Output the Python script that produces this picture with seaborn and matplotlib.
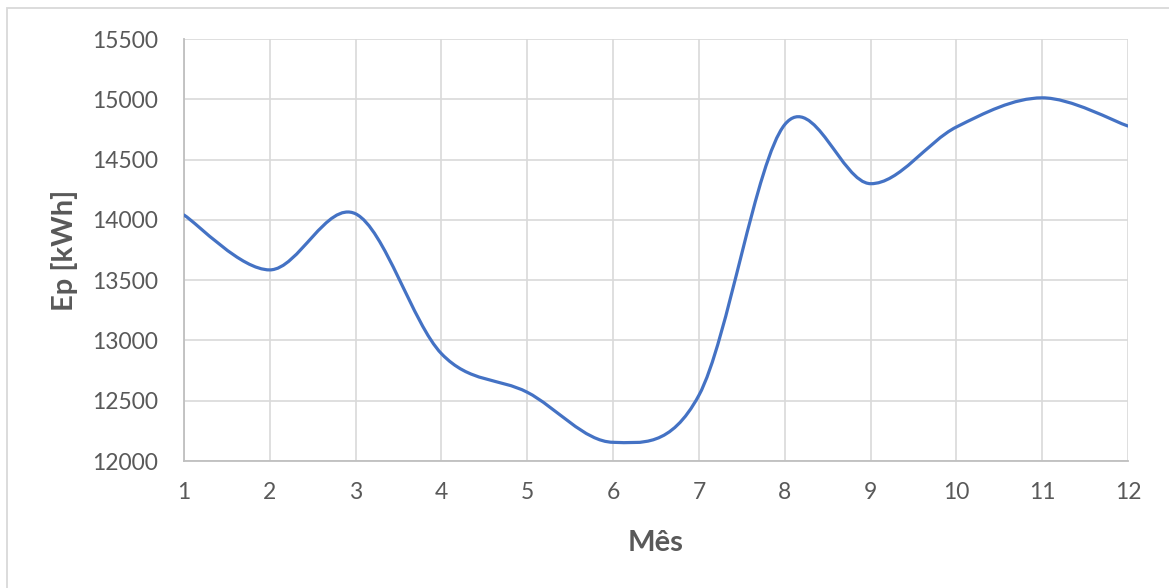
import numpy as np
import matplotlib
matplotlib.use("Agg")
import matplotlib.pyplot as plt
from matplotlib import font_manager
from matplotlib.path import Path
from matplotlib.patches import PathPatch, Rectangle
import seaborn as sns
import pandas as pd

# Monthly energy production
months = [1, 2, 3, 4, 5, 6, 7, 8, 9, 10, 11, 12]
ep_kwh = [14040, 13585, 14050, 12890, 12570, 12155, 12545, 14790, 14300, 14770, 15012, 14778]
y_ticks = [12000, 12500, 13000, 13500, 14000, 14500, 15000, 15500]

LINE_COLOR = "#4472C4"
TEXT_COLOR = "#595959"
GRID_COLOR = "#D9D9D9"
SPINE_COLOR = "#BFBFBF"

sns.set_style("white")
plt.rcParams["font.family"] = ["Lato", "DejaVu Sans"]


def _weight(w):
    if isinstance(w, (int, float)):
        return int(w)
    return font_manager.weight_dict.get(str(w).lower(), 400)


def bold_font_file(candidates):
    """Path of a true bold (not semibold, not italic) face from the first family that has one."""
    for fam in candidates:
        best = None
        for entry in font_manager.fontManager.ttflist:
            if entry.name != fam or entry.style != "normal":
                continue
            fname = entry.fname.lower()
            if any(k in fname for k in ("semi", "demi", "medium", "italic", "condensed")):
                continue
            w = _weight(entry.weight)
            if 700 <= w <= 800:
                if best is None or abs(w - 700) < abs(best[0] - 700):
                    best = (w, entry.fname)
        if best is not None:
            return best[1]
    return None


bold_path = bold_font_file(["Lato", "Open Sans", "Noto Sans", "Roboto", "Liberation Sans"])
if bold_path:
    bold_prop = font_manager.FontProperties(fname=bold_path, size=21)
else:
    bold_prop = font_manager.FontProperties(family="DejaVu Sans", weight="bold", size=19)

W, H = 1169, 588
fig = plt.figure(figsize=(W / 100, H / 100), dpi=100)
fig.patch.set_facecolor("white")

# chart frame (top and left edges visible)
fig.add_artist(Rectangle((7 / W, -0.1), 1.2, 1 - 8 / H + 0.1, transform=fig.transFigure,
                         fill=False, edgecolor="#D9D9D9", linewidth=1.3))

ax = fig.add_axes([184 / W, 1 - 461 / H, (1128 - 184) / W, (461 - 39) / H])

df = pd.DataFrame({"Mês": months, "Ep": ep_kwh})
sns.lineplot(data=df, x="Mês", y="Ep", ax=ax, color=LINE_COLOR, linewidth=2.3)

# Replace the polyline with a smoothed Bezier curve through the same points
line = ax.lines[0]
pts = np.asarray(line.get_xydata(), dtype=float)
line.remove()
n = len(pts)
verts = [tuple(pts[0])]
codes = [Path.MOVETO]
for i in range(n - 1):
    p0 = pts[i - 1] if i > 0 else pts[i]
    p1 = pts[i]
    p2 = pts[i + 1]
    p3 = pts[i + 2] if i + 2 < n else pts[i + 1]
    c1 = p1 + (p2 - p0) / 6.0
    c2 = p2 - (p3 - p1) / 6.0
    verts += [tuple(c1), tuple(c2), tuple(p2)]
    codes += [Path.CURVE4] * 3
ax.add_patch(PathPatch(Path(verts, codes), facecolor="none", edgecolor=LINE_COLOR,
                       linewidth=2.3, capstyle="round", joinstyle="round", zorder=3))

ax.set_xlim(1, 12)
ax.set_ylim(12000, 15500)
ax.set_xticks(months)
ax.set_yticks(y_ticks)
ax.grid(True, color=GRID_COLOR, linewidth=1.2)
ax.set_axisbelow(True)

for side in ["top", "right"]:
    ax.spines[side].set_visible(False)
for side in ["left", "bottom"]:
    ax.spines[side].set_color(SPINE_COLOR)
    ax.spines[side].set_linewidth(1.3)

ax.tick_params(axis="both", length=0, labelsize=16.5, labelcolor=TEXT_COLOR)
ax.tick_params(axis="y", pad=19)
ax.tick_params(axis="x", pad=15)

ax.set_xlabel("Mês", fontproperties=bold_prop, color=TEXT_COLOR)
ax.set_ylabel("Ep [kWh]", fontproperties=bold_prop, color=TEXT_COLOR)
ax.xaxis.set_label_coords(0.5, -0.163)
ax.yaxis.set_label_coords(-0.112, 0.5)

fig.savefig("out.png", dpi=100, facecolor="white")
